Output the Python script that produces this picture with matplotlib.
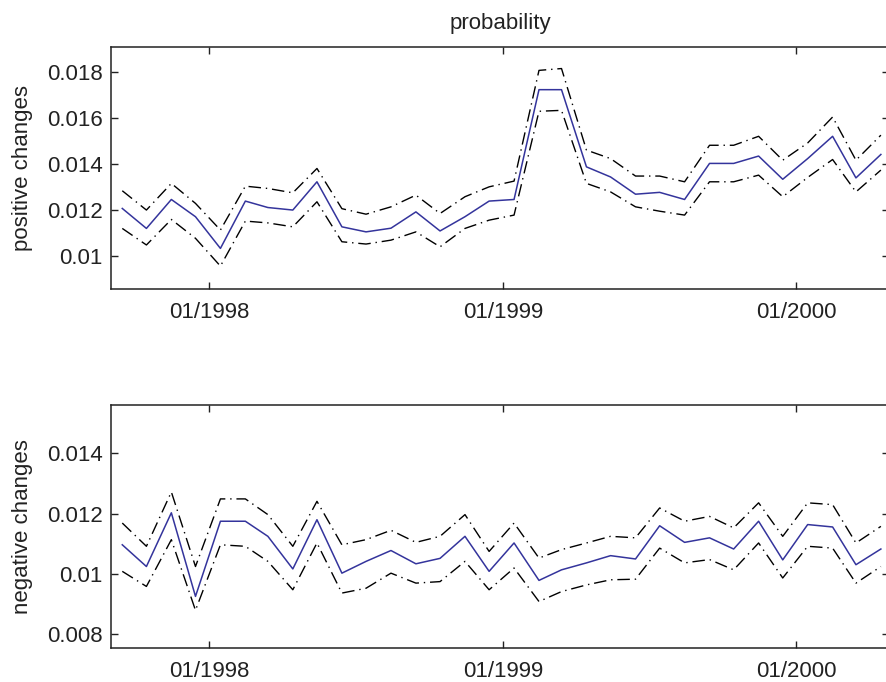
import numpy as np
import pandas as pd
import matplotlib
matplotlib.use('Agg')
import matplotlib.pyplot as plt
import matplotlib.dates as mdates

plt.rcParams['font.family'] = ['Liberation Sans', 'DejaVu Sans']

# monthly observations, Sep 1997 - Apr 2000
dates = pd.date_range(start='1997-09-01', periods=32, freq='MS') + pd.Timedelta(days=14)

pos_mean = [0.01206, 0.01119, 0.01245, 0.0117, 0.01032, 0.01238, 0.0121, 0.01199,
            0.01322, 0.01126, 0.01104, 0.0112, 0.01191, 0.01108, 0.0117, 0.01238,
            0.01245, 0.01723, 0.01723, 0.01387, 0.01343, 0.01268, 0.01276, 0.01245,
            0.01402, 0.01402, 0.01434, 0.01333, 0.01423, 0.0152, 0.01339, 0.01441]
pos_upper = [0.01283, 0.01199, 0.01315, 0.01228, 0.01112, 0.01303, 0.01293, 0.01274,
             0.0138, 0.01205, 0.01181, 0.01213, 0.01264, 0.01184, 0.01257, 0.013,
             0.01325, 0.01807, 0.01815, 0.0146, 0.01423, 0.01347, 0.01347, 0.01322,
             0.01481, 0.01481, 0.0152, 0.01416, 0.01491, 0.01604, 0.01416, 0.01525]
pos_lower = [0.01119, 0.01047, 0.01158, 0.01076, 0.00955, 0.01151, 0.01143, 0.01126,
             0.01235, 0.01061, 0.01051, 0.01068, 0.01104, 0.01039, 0.01119, 0.01155,
             0.01177, 0.01629, 0.01633, 0.01315, 0.01278, 0.01213, 0.01194, 0.01177,
             0.01322, 0.01322, 0.01351, 0.01257, 0.01341, 0.01419, 0.01278, 0.01373]

neg_mean = [0.01097, 0.01025, 0.01203, 0.00926, 0.01175, 0.01175, 0.01125, 0.01017,
            0.0118, 0.01003, 0.01042, 0.01078, 0.01034, 0.01052, 0.01125, 0.01009,
            0.01103, 0.00979, 0.01014, 0.01037, 0.01061, 0.0105, 0.0116, 0.01105,
            0.0112, 0.01083, 0.01175, 0.01047, 0.01164, 0.01156, 0.01031, 0.01083]
neg_upper = [0.01169, 0.01092, 0.01272, 0.01025, 0.01249, 0.01249, 0.01197, 0.01092,
             0.01241, 0.01097, 0.01114, 0.01145, 0.01105, 0.01125, 0.01197, 0.01075,
             0.01169, 0.01053, 0.01081, 0.01103, 0.01125, 0.0112, 0.01219, 0.01175,
             0.01191, 0.01153, 0.01236, 0.01125, 0.01236, 0.0123, 0.01103, 0.01158]
neg_lower = [0.01009, 0.00959, 0.01114, 0.0088, 0.01097, 0.01092, 0.01042, 0.00948,
             0.01103, 0.00937, 0.00953, 0.01003, 0.0097, 0.00975, 0.01042, 0.00948,
             0.0102, 0.00909, 0.00942, 0.00964, 0.00981, 0.00983, 0.01086, 0.01037,
             0.01048, 0.01014, 0.01103, 0.00987, 0.01092, 0.01086, 0.0097, 0.01025]

xticks = ['1998-01-01', '1999-01-01', '2000-01-01']
pos_yticks = [0.01, 0.012, 0.014, 0.016, 0.018]
neg_yticks = [0.008, 0.01, 0.012, 0.014]

fig = plt.figure(figsize=(8.86, 6.82), dpi=100)
# axes run slightly past the right edge, like the cropped original
ax1 = fig.add_axes([0.1253, 0.5758, 0.878, 0.3557])
ax2 = fig.add_axes([0.1253, 0.0494, 0.878, 0.3567])

panels = [
    (ax1, pos_mean, pos_upper, pos_lower, 'positive changes', (0.00854, 0.0191), pos_yticks),
    (ax2, neg_mean, neg_upper, neg_lower, 'negative changes', (0.00754, 0.0156), neg_yticks),
]

for ax, mean, upper, lower, label, ylim, yticks in panels:
    ax.plot(dates, upper, color='black', lw=1, linestyle=(0, (9, 3.5, 1, 3.5)))
    ax.plot(dates, lower, color='black', lw=1, linestyle=(0, (9, 3.5, 1, 3.5)))
    ax.plot(dates, mean, color='#34349c', lw=1.1)
    ax.set_xlim(pd.Timestamp('1997-09-01'), pd.Timestamp('2000-04-25'))
    ax.set_ylim(*ylim)
    ax.set_xticks(pd.to_datetime(xticks))
    ax.xaxis.set_major_formatter(mdates.DateFormatter('%m/%Y'))
    ax.set_yticks(yticks)
    ax.set_yticklabels(['%g' % t for t in yticks])
    ax.tick_params(direction='in', length=5, width=1, labelsize=16, colors='#222222',
                   top=True, right=True)
    ax.tick_params(axis='x', pad=9)
    ax.tick_params(axis='y', pad=6)
    ax.set_ylabel(label, fontsize=16, color='#222222')
    ax.yaxis.set_label_coords(-0.100, 0.5)
    for s in ax.spines.values():
        s.set_linewidth(1.1)
        s.set_color('#222222')

ax1.set_title('probability', fontsize=16, color='#222222', pad=13)

plt.savefig('out.png', dpi=100)
